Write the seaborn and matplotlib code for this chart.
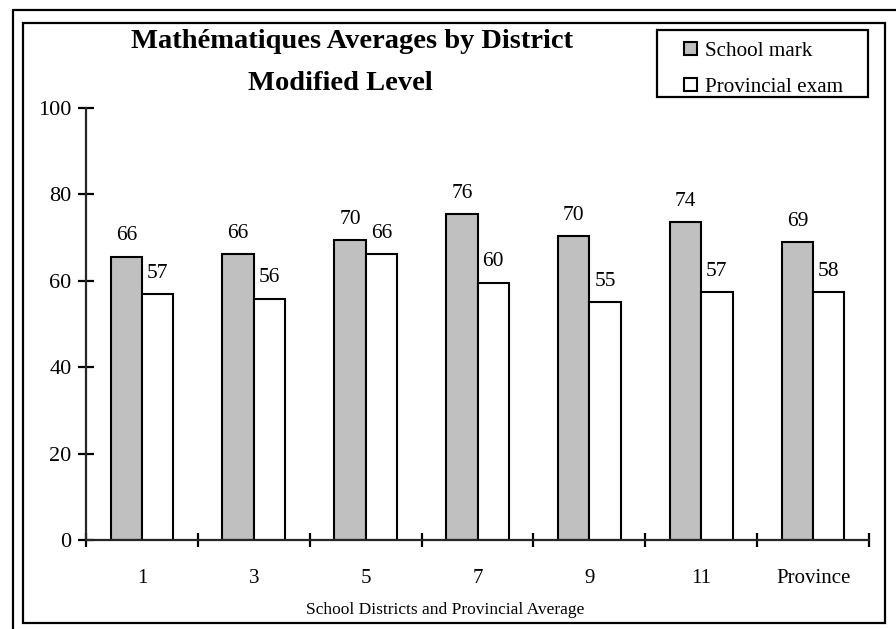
"""Mathématiques averages by district (modified level): school mark vs provincial exam."""

import matplotlib

matplotlib.use("Agg")
import matplotlib.pyplot as plt  # noqa: E402
import pandas as pd  # noqa: E402
import seaborn as sns  # noqa: E402
from matplotlib.lines import Line2D  # noqa: E402
from matplotlib.patches import Rectangle  # noqa: E402

districts = ["1", "3", "5", "7", "9", "11", "Province"]
school_mark = [65.6, 66.1, 69.4, 75.4, 70.3, 73.5, 68.9]
provincial_exam = [56.9, 55.9, 66.1, 59.6, 55.0, 57.3, 57.3]
school_labels = ["66", "66", "70", "76", "70", "74", "69"]
exam_labels = ["57", "56", "66", "60", "55", "57", "58"]
series_names = ["School mark", "Provincial exam"]
y_ticks = [0, 20, 40, 60, 80, 100]

sns.set_theme(style="white")
plt.rcParams["font.family"] = ["Liberation Serif", "DejaVu Serif"]
plt.rcParams["text.color"] = "black"
plt.rcParams["axes.linewidth"] = 1.6

df = pd.DataFrame({
    "district": districts * 2,
    "series": [series_names[0]] * len(districts) + [series_names[1]] * len(districts),
    "score": school_mark + provincial_exam,
})

W, H = 896, 629
fig = plt.figure(figsize=(W / 100, H / 100), dpi=100)
ax = fig.add_axes([86 / W, 1 - 540 / H, (869 - 86) / W, (540 - 108) / H])

sns.barplot(
    data=df, x="district", y="score", hue="series", order=districts,
    hue_order=series_names, palette=["#c0c0c0", "white"], width=0.56, gap=0,
    edgecolor="black", linewidth=1.5, errorbar=None, ax=ax,
)

for cont, labels in zip(ax.containers, [school_labels, exam_labels]):
    ax.bar_label(cont, labels=labels, padding=8, fontsize=15.5, color="black")

ax.set_ylim(0, 100)
ax.set_xlim(-0.5, len(districts) - 0.5)
ax.set_yticks(y_ticks)
ax.tick_params(axis="y", left=True, direction="inout", length=11, width=1.6,
               labelsize=16, pad=5, colors="black")
ax.set_xticks([i - 0.5 for i in range(len(districts) + 1)])
ax.set_xticklabels([])
ax.tick_params(axis="x", which="major", bottom=True, direction="inout", length=10,
               width=1.6, colors="black")
ax.set_xticks(range(len(districts)), minor=True)
ax.set_xticklabels(districts, minor=True)
ax.tick_params(axis="x", which="minor", bottom=True, length=0, labelsize=15, pad=21,
               labelcolor="black")
ax.set_xlabel("")
ax.set_ylabel("")
for side in ["top", "right"]:
    ax.spines[side].set_visible(False)

# legend entries from seaborn, box drawn separately
handles, labels = ax.get_legend_handles_labels()
for h in handles:
    h.set_linewidth(1.5)
ax.legend(
    handles, labels, loc="upper left", bbox_to_anchor=(684 / W, 1 - 42 / H),
    bbox_transform=fig.transFigure, frameon=False, fontsize=15.2,
    handlelength=0.6, handleheight=0.6, handletextpad=0.4, labelspacing=0.8,
    borderpad=0, borderaxespad=0,
)
fig.patches.append(Rectangle((657 / W, 1 - 97 / H), (868 - 657) / W, (97 - 30) / H,
                             transform=fig.transFigure, fill=False,
                             edgecolor="black", linewidth=1.6))

fig.text(352 / W, 1 - 41 / H, "Mathématiques Averages by District",
         ha="center", va="center", fontsize=20.5, fontweight="bold")
fig.text(340 / W, 1 - 84 / H, "Modified Level",
         ha="center", va="center", fontsize=20.5, fontweight="bold")
fig.text(445 / W, 1 - 610 / H, "School Districts and Provincial Average",
         ha="center", va="center", fontsize=12.5)

# chart frames
fig.patches.append(Rectangle((23 / W, 1 - 623 / H), (885 - 23) / W, (623 - 23) / H,
                             transform=fig.transFigure, fill=False,
                             edgecolor="black", linewidth=1.6))
fig.lines.append(Line2D([13 / W, 13 / W], [0, 1 - 10 / H], transform=fig.transFigure,
                        color="black", linewidth=1.6))
fig.lines.append(Line2D([13 / W, 1], [1 - 10 / H, 1 - 10 / H], transform=fig.transFigure,
                        color="black", linewidth=1.6))

fig.savefig("out.png", dpi=100)
